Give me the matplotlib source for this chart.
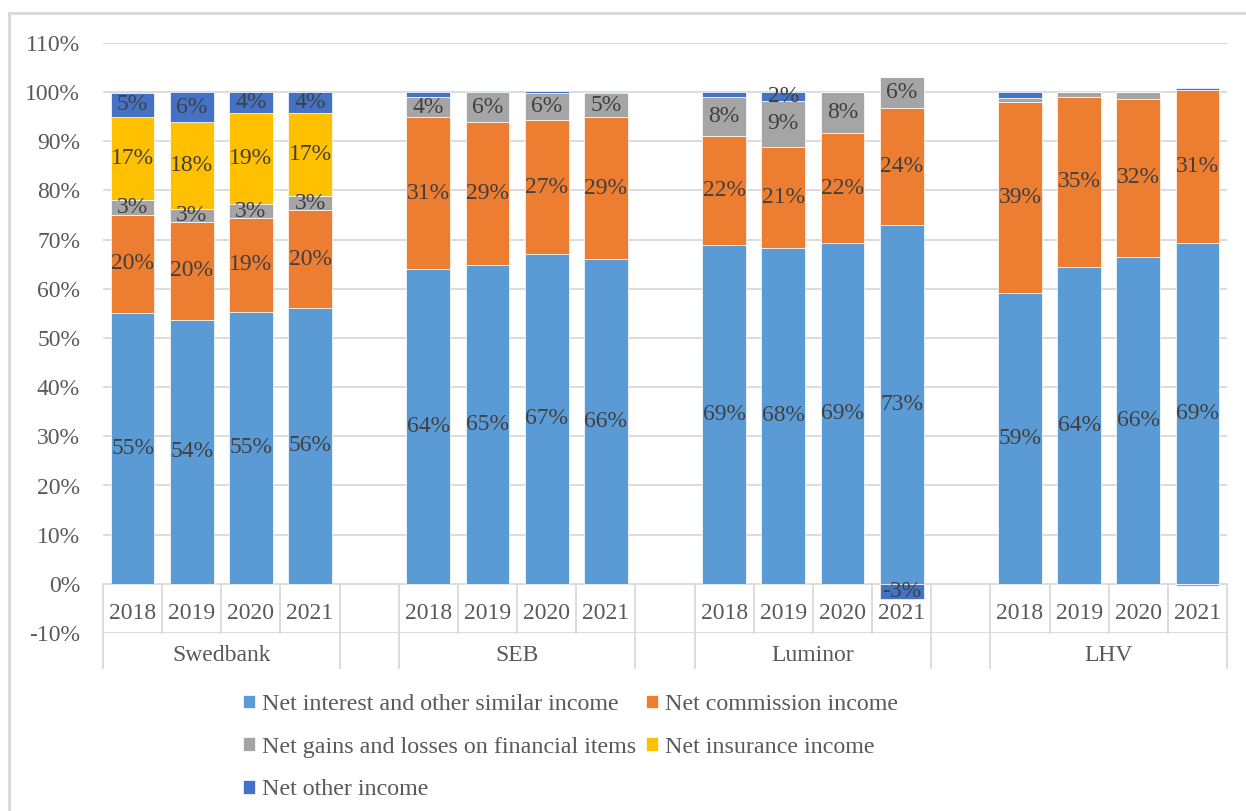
import numpy as np
import matplotlib
matplotlib.use('Agg')
import matplotlib.pyplot as plt

#####
# Data (shares of total income, %)
#####

banks = ['Swedbank', 'SEB', 'Luminor', 'LHV']
years = ['2018', '2019', '2020', '2021']

series_names = ['Net interest and other similar income',
                'Net commission income',
                'Net gains and losses on financial items',
                'Net insurance income',
                'Net other income']

# each list: Swedbank 2018-2021, SEB 2018-2021, Luminor 2018-2021, LHV 2018-2021
net_interest = [55.1, 53.7, 55.3, 56.1,
                64.0, 64.8, 67.1, 66.1,
                68.9, 68.3, 69.3, 73.0,
                59.1, 64.4, 66.5, 69.4]
net_commission = [20.0, 19.9, 19.1, 19.9,
                  30.9, 29.1, 27.2, 28.8,
                  22.2, 20.6, 22.4, 23.7,
                  38.9, 34.7, 32.1, 31.0]
net_gains = [3.0, 2.6, 2.8, 2.9,
             4.1, 6.1, 5.6, 4.9,
             7.9, 9.4, 8.3, 6.4,
             0.8, 0.9, 1.4, -0.5]
net_insurance = [16.9, 17.7, 18.6, 16.8,
                 0.0, 0.0, 0.0, 0.0,
                 0.0, 0.0, 0.0, 0.0,
                 0.0, 0.0, 0.0, 0.0]
net_other = [4.9, 6.1, 4.3, 4.3,
             1.0, 0.2, 0.3, 0.2,
             1.0, 1.8, 0.0, -3.0,
             1.2, 0.0, 0.0, 0.4]

colors = ['#5B9BD5', '#ED7D31', '#A5A5A5', '#FFC000', '#4472C4']

#####
# Figure setup
#####

plt.rcParams['font.family'] = ['Liberation Serif', 'DejaVu Serif']
W, H = 1246, 811
fig = plt.figure(figsize=(W / 100, H / 100), dpi=100)

# plot area in pixels: x 103..1227, y 43 (110%) .. 633 (-10%)
ax = fig.add_axes([103 / W, 1 - 633 / H, (1227 - 103) / W, (633 - 43) / H])
ax.set_ylim(-10, 110)
ax.set_xlim(-0.5, 18.5)

grid_col = '#D9D9D9'
text_col = '#404040'
tick_col = '#595959'
fs = 17

for v in range(-10, 111, 10):
    ax.axhline(v, color=grid_col, lw=1.3, zorder=0)

# slot positions: 4 years per bank with one empty slot between banks
positions = []
for b in range(len(banks)):
    for y in range(len(years)):
        positions.append(b * 5 + y)
positions = np.array(positions)

all_series = [net_interest, net_commission, net_gains, net_insurance, net_other]
pos_bottom = np.zeros(len(positions))
neg_bottom = np.zeros(len(positions))
width = 0.74

for name, vals, col in zip(series_names, all_series, colors):
    vals = np.array(vals)
    bottoms = np.where(vals >= 0, pos_bottom, neg_bottom)
    ax.bar(positions, vals, width, bottom=bottoms, color=col,
           edgecolor='white', linewidth=0.5, label=name, zorder=2)
    for x, v, b in zip(positions, vals, bottoms):
        if abs(v) >= 1.5:   # small slices have no label
            ax.text(x, b + v / 2, '%d%%' % int(round(v)), ha='center', va='center',
                    fontsize=fs, color=text_col, zorder=3)
    pos_bottom = pos_bottom + np.where(vals >= 0, vals, 0)
    neg_bottom = neg_bottom + np.where(vals < 0, vals, 0)

#####
# Axes styling
#####

for s in ax.spines.values():
    s.set_visible(False)
ax.set_xticks([])
ax.set_yticks(range(-10, 111, 10))
ax.set_yticklabels(['%d%%' % v for v in range(-10, 111, 10)], fontsize=fs, color=tick_col)
ax.tick_params(axis='y', length=0, pad=16.5)

# two level category axis below 0%
row_bottom = -17.1
for b in range(len(banks)):
    start = b * 5 - 0.5
    for k in range(1, 4):
        ax.plot([start + k, start + k], [0, -10], color=grid_col, lw=1.3, clip_on=False, zorder=1)
    for edge in (start, start + 4):
        ax.plot([edge, edge], [0, row_bottom], color=grid_col, lw=1.3, clip_on=False, zorder=1)
    for y in range(len(years)):
        ax.text(b * 5 + y, -6.0, years[y], ha='center', va='center', fontsize=fs, color=tick_col)
    ax.text(b * 5 + 1.5, -14.6, banks[b], ha='center', va='center', fontsize=fs, color=tick_col)

# legend laid out in rows of two
handles, labels = ax.get_legend_handles_labels()
order = [0, 2, 4, 1, 3]
fig.legend([handles[i] for i in order], [labels[i] for i in order],
           loc='upper left', bbox_to_anchor=(243 / W, 1 - 694 / H), ncol=2, frameon=False,
           fontsize=17.3, labelcolor=tick_col, handlelength=0.5, handleheight=0.5,
           handletextpad=0.3, columnspacing=0.4, labelspacing=0.9, borderpad=0, borderaxespad=0)

# chart border (continues off the right and bottom edges)
fig.add_artist(plt.Line2D([9 / W, 9 / W], [0, 1 - 13 / H], color=grid_col, lw=2, transform=fig.transFigure))
fig.add_artist(plt.Line2D([9 / W, 1], [1 - 13 / H, 1 - 13 / H], color=grid_col, lw=2, transform=fig.transFigure))

fig.savefig('out.png', dpi=100, facecolor='white')
